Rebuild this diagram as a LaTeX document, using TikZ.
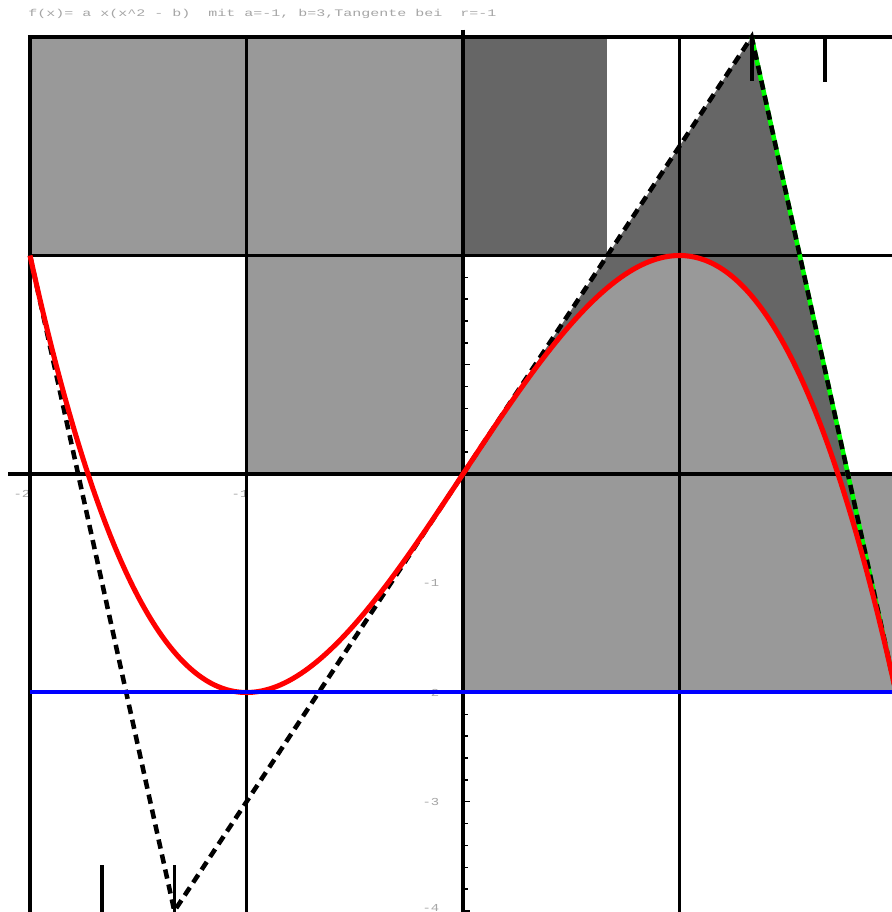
\documentclass[tikz,border=0pt]{standalone}
\usepackage{graphicx}
\usepackage{fontspec}
\newfontfamily\plotmono{Liberation Mono}
\definecolor{lg}{RGB}{153,153,153}
\definecolor{dg}{RGB}{102,102,102}
\definecolor{txtgray}{RGB}{165,165,165}
\definecolor{tgreen}{RGB}{0,255,0}
\begin{document}
\begin{tikzpicture}[x=162.375pt,y=81.9375pt,
  gridline/.style={line width=2.8pt,black},
  fcurve/.style={line width=3.8pt,red,line join=round},
  tangline/.style={line width=3.4pt,black,dash pattern=on 7pt off 4.5pt},
  greenline/.style={line width=3.4pt,tgreen},
  blueline/.style={line width=3pt,blue},
  vmarkline/.style={line width=2.8pt,black},
  ticklbl/.style={font=\plotmono\fontsize{8}{9}\selectfont,text=txtgray,inner sep=0pt},
  titlelbl/.style={font=\plotmono\fontsize{7.5}{9}\selectfont,text=txtgray,inner sep=0pt,anchor=west},
  axtick/.style={line width=1.1pt,black}]
\useasboundingbox (-2.1386,-4.0092) rectangle (1.9815,4.3387);
\clip (-2.1386,-4.0092) rectangle (1.9815,4.3387);

% named points
\coordinate (T1) at (-2,2);
\coordinate (T2) at (-4/3,-4);
\coordinate (T3) at (4/3,4);
\coordinate (T4) at (2,-2);
\coordinate (O) at (0,0);

% y-axis ticks (under fills)
\foreach \k in {-20,...,20}{
  \draw[axtick] (0,\k/5) -- ++(0.022,0);
}
\foreach \k in {-4,...,4}{
  \draw[axtick] (0,\k) -- ++(0.034,0);
}

% tick labels
\node[ticklbl] (ly1) at (-0.148,-1) {\scalebox{1.3}[1]{-1}};
\node[ticklbl] (ly2) at (-0.148,-2) {\scalebox{1.3}[1]{-2}};
\node[ticklbl] (ly3) at (-0.148,-3) {\scalebox{1.3}[1]{-3}};
\node[ticklbl] (ly4) at (-0.148,-3.97) {\scalebox{1.3}[1]{-4}};
\node[ticklbl] (lx2) at (-2.037,-0.183) {\scalebox{1.3}[1]{-2}};
\node[ticklbl] (lx1) at (-1.03,-0.183) {\scalebox{1.3}[1]{-1}};

% light fills
\fill[lg] (-2,2) rectangle (0,4);
\fill[lg] (-1,0) rectangle (0,2);
\fill[lg] (0,-2) rectangle (2,0);
\fill[lg] (0,-2) -- plot[domain=0:2,samples=120] (\x,{-\x*\x*\x+3*\x}) -- cycle;

% dark fills
\fill[dg] (0,2) rectangle (2/3,4);
\fill[dg] (O) -- (T3) -- (T4) -- plot[domain=2:0,samples=120] (\x,{-\x*\x*\x+3*\x}) -- cycle;

% grid lines
\draw[gridline] (-2.01,4) -- (2.05,4);
\draw[gridline] (-2.01,2) -- (2.05,2);
\draw[gridline] (-2.1016,0) -- (2.05,0);
\draw[gridline] (-2,4) -- (-2,-4.1);
\draw[gridline] (-1,4) -- (-1,-4.1);
\draw[gridline] (0,4.068) -- (0,-4.1);
\draw[gridline] (1,4) -- (1,-4.1);

% tangent at x=2 (green) and dashed tangent polygon
\draw[greenline] (T3) -- (T4);
\draw[tangline] (T1) -- (T2) -- (T3) -- (T4);

% function curve
\draw[fcurve] plot[domain=-2:2.02,samples=200,smooth] (\x,{-\x*\x*\x+3*\x});

% line y=-2
\draw[blueline] (-2,-2) -- (2.05,-2);

% short vertical marks
\draw[vmarkline] (T3) -- (4/3,3.6);
\draw[vmarkline] (1.6735,4) -- (1.6735,3.59);
\draw[vmarkline] (-1.667,-4.1) -- (-1.667,-3.58);
\draw[vmarkline] (-1.3326,-4.1) -- (-1.3326,-3.58);

% title
\node[titlelbl] (title) at (-2.009,4.2105) {\scalebox{1.5}[1]{f(x)=\ a\ x(x\textasciicircum 2\ -\ b)\ \ mit\ a=-1,\ b=3,Tangente\ bei\ \ r=-1}};
\end{tikzpicture}
\end{document}
